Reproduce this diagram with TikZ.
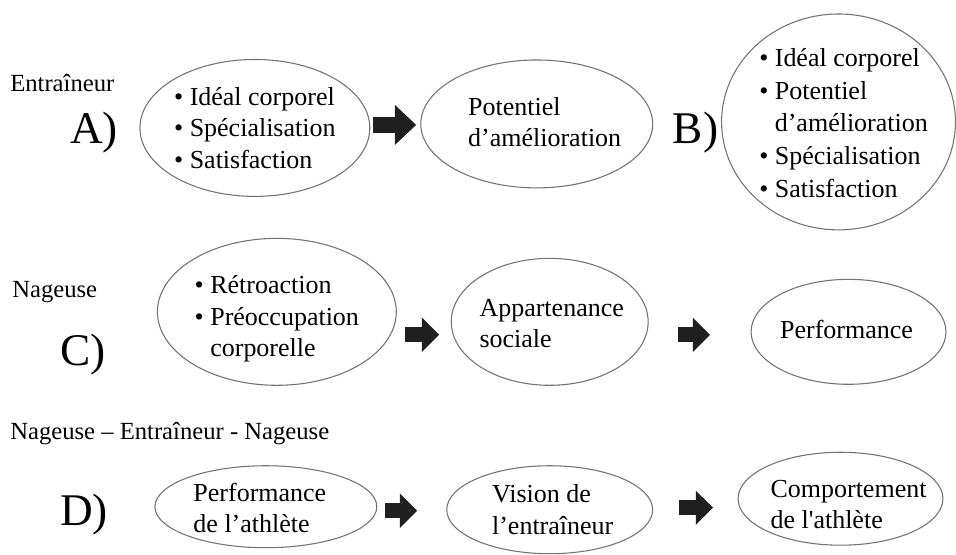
\documentclass[tikz,border=0pt]{standalone}
\usepackage{fontspec}
\setmainfont{Liberation Serif}
\usetikzlibrary{shapes.geometric,arrows.meta,calc}

\begin{document}
\begin{tikzpicture}[x=0.75pt,y=-0.75pt,
  oval/.style 2 args={ellipse, draw=black!55, line width=0.8pt, inner sep=0pt, minimum width=#1*0.75pt, minimum height=#2*0.75pt},
  txt/.style={align=left, inner sep=0pt, font=\fontsize{19.5}{23.5}\selectfont},
  lbl/.style={anchor=west, inner sep=0pt, font=\fontsize{18.5}{22}\selectfont},
  big/.style={inner sep=0pt, font=\fontsize{34}{40}\selectfont},
  arr/.style={draw=black!88, line width=12.5pt, -{Triangle[width=29pt,length=16pt]}},
  arrs/.style={draw=black!88, line width=11pt, -{Triangle[width=25pt,length=13pt]}}]
\path[fill=white] (0,0) rectangle (956,550); % page

% row A / B
\node[lbl] (ent) at (10,83) {Entraîneur};
\node[big] (la) at (94,133) {A)};
\node[oval={230}{137}] (a1) at (255,128) {};
\node[txt] (a1t) at (a1) {• Idéal corporel\\• Spécialisation\\• Satisfaction};
\node[oval={232}{128}] (a2) at (537,124) {};
\node[txt] (a2t) at ($(a2)+(8,-2)$) {Potentiel\\d’amélioration};
\node[big] (lb) at (696,133) {B)};
\node[oval={234}{216}] (b) at (839,122) {};
\node[txt, font=\fontsize{19.5}{24.5}\selectfont] (bt) at ($(b)+(5,1)$) {• Idéal corporel\\• Potentiel\\\hphantom{• }d’amélioration\\• Spécialisation\\• Satisfaction};
\draw[arr] ($(a1.east)+(3,-3)$) -- ($(a2.west)+(-4,1)$); % A1 -> A2

% row C
\node[lbl] (nag) at (12,292) {Nageuse};
\node[big] (lc) at (83,355) {C)};
\node[oval={239}{147}] (c1) at (277,312) {};
\node[txt] (c1t) at ($(c1)+(0,7)$) {• Rétroaction\\• Préoccupation\\\hphantom{• }corporelle};
\node[oval={197}{127}] (c2) at (550,322) {};
\node[txt] (c2t) at ($(c2)+(2,2)$) {Appartenance\\sociale};
\node[oval={195}{105}] (c3) at (849,332) {};
\node[txt] (c3t) at ($(c3)+(-2,-2)$) {Performance};
\draw[arrs] ($(c1.east)+(8.5,23)$) -- ($(c2.west)+(-11.5,13)$); % C1 -> C2
\draw[arrs] ($(c2.east)+(29.5,13)$) -- ($(c3.west)+(-40.5,3)$); % C2 -> C3

% row D
\node[lbl] (nen) at (10,434) {Nageuse -- Entraîneur - Nageuse};
\node[big] (ld) at (84,515) {D)};
\node[oval={222}{82}] (d1) at (266,507) {};
\node[txt] (d1t) at ($(d1)+(-6,1)$) {Performance\\de l’athlète};
\node[oval={206}{88}] (d2) at (550,510) {};
\node[txt] (d2t) at ($(d2)+(3,0)$) {Vision de\\l’entraîneur};
\node[oval={205}{93}] (d3) at (841,499) {};
\node[txt] (d3t) at ($(d3)+(8,6)$) {Comportement\\de l\textquotesingle athlète};
\draw[arrs] ($(d1.east)+(8,4)$) -- ($(d2.west)+(-29,1)$); % D1 -> D2
\draw[arrs] ($(d2.east)+(26,-2)$) -- ($(d3.west)+(-24.5,9)$); % D2 -> D3
\end{tikzpicture}
\end{document}
